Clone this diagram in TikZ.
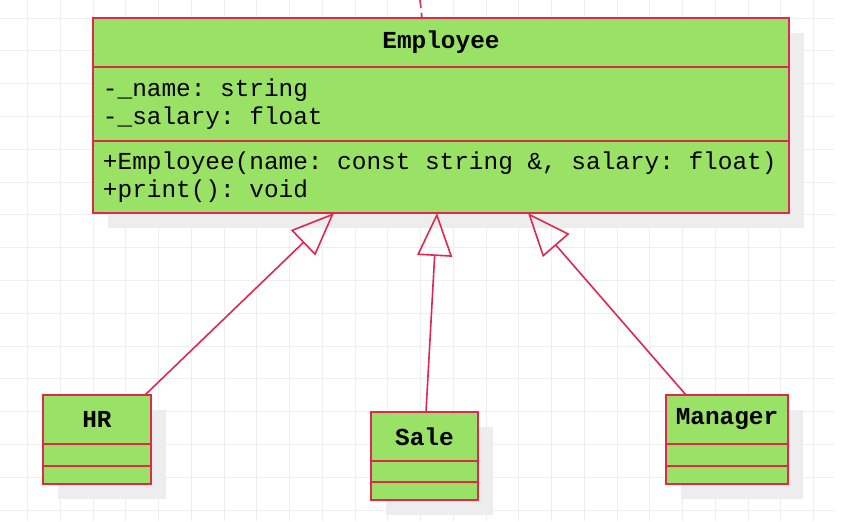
\documentclass[tikz,border=0pt]{standalone}
\usepackage{fontspec}
\setmonofont{Liberation Mono}
\usetikzlibrary{arrows.meta,shadows}

\definecolor{umlgreen}{HTML}{9AE265}
\definecolor{umlred}{HTML}{E0284E}
\definecolor{gridgray}{HTML}{EEEEEE}
\definecolor{shadowgray}{HTML}{EDEDED}

\newcommand\monospaces{\spaceskip=0.6em\relax\xspaceskip=0.6em\relax}

\tikzset{
  umlfont/.style={font=\fontsize{12.2}{14}\selectfont\ttfamily,
    execute at begin node=\monospaces},
  part/.style={draw=umlred, line width=1pt, fill=umlgreen, anchor=north west,
    inner sep=0pt, outer sep=0pt,
    drop shadow={shadow xshift=7.5pt, shadow yshift=-7.25pt, fill=shadowgray, opacity=1}},
  classhead/.style={part, font=\fontsize{12.2}{14}\selectfont\ttfamily\bfseries,
    minimum height=24.5pt, align=center},
  members/.style={part, umlfont, align=left, inner xsep=5pt, text width=338pt},
  slot/.style={part},
  gridline/.style={draw=gridgray, line width=0.5pt},
  inherit/.style={draw=umlred, line width=0.8pt,
    -{Triangle[open, length=21.5pt, width=17.5pt]}},
  usage/.style={draw=umlred, line width=0.8pt, dash pattern=on 4pt off 2.5pt}
}

\begin{document}
\begin{tikzpicture}[x=0.5pt, y=-0.5pt]

\fill[white] (0,0) rectangle (864,521);
\useasboundingbox (0,0) rectangle (864,521);

\foreach \k in {-2,...,22}
  \draw[gridline] ({93+32.75*\k},0) -- ({93+32.75*\k},521);
\foreach \k in {0,...,15}
  \draw[gridline] (0,{18+32.8*\k}) -- (835,{18+32.8*\k});

% base class
\node[classhead, minimum width=348pt] (emp) at (93,18) {Employee};
\node[members, minimum height=37pt] (emp-attr) at (emp.south west)
  {-\_name: string\\-\_salary: float};
\node[members, minimum height=36pt] (emp-ops) at (emp-attr.south west)
  {+Employee(name: const string \&, salary: float)\\+print(): void};

% derived classes
\node[classhead, minimum width=54pt] (hr) at (43,395) {HR};
\node[slot, minimum width=54pt, minimum height=11pt] (hr-attr) at (hr.south west) {};
\node[slot, minimum width=54pt, minimum height=9pt] (hr-ops) at (hr-attr.south west) {};

\node[classhead, minimum width=53.5pt] (sale) at (371,412) {Sale};
\node[slot, minimum width=53.5pt, minimum height=10.5pt] (sale-attr) at (sale.south west) {};
\node[slot, minimum width=53.5pt, minimum height=9pt] (sale-ops) at (sale-attr.south west) {};

\node[classhead, minimum width=61pt] (mgr) at (666,395) {Manager};
\node[slot, minimum width=61pt, minimum height=11pt] (mgr-attr) at (mgr.south west) {};
\node[slot, minimum width=61pt, minimum height=9pt] (mgr-ops) at (mgr-attr.south west) {};

\coordinate (up) at (420,0);
\draw[usage] (up) -- ([xshift=-9.5pt]emp.north);

\draw[inherit] ([xshift=-3pt]hr.north east) -- ([xshift=120.5pt]emp-ops.south west);
\draw[inherit] ([xshift=0.75pt]sale.north) -- ([xshift=172pt]emp-ops.south west);
\draw[inherit] ([xshift=10pt]mgr.north west) -- ([xshift=217.5pt]emp-ops.south west);

\end{tikzpicture}
\end{document}
